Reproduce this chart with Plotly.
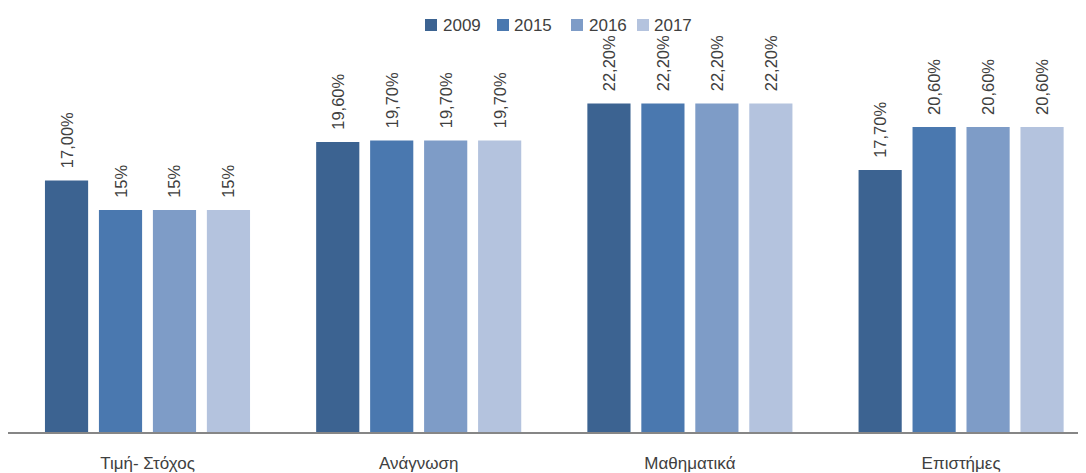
import plotly.graph_objects as go

categories = ["Τιμή- Στόχος", "Ανάγνωση", "Μαθηματικά", "Επιστήμες"]
years = ["2009", "2015", "2016", "2017"]
values_2009 = [17.0, 19.6, 22.2, 17.7]
values_2015 = [15.0, 19.7, 22.2, 20.6]
values_2016 = [15.0, 19.7, 22.2, 20.6]
values_2017 = [15.0, 19.7, 22.2, 20.6]
labels_2009 = ["17,00%", "19,60%", "22,20%", "17,70%"]
labels_2015 = ["15%", "19,70%", "22,20%", "20,60%"]
labels_2016 = ["15%", "19,70%", "22,20%", "20,60%"]
labels_2017 = ["15%", "19,70%", "22,20%", "20,60%"]
colors = ["#3C6391", "#4A78AF", "#7E9CC7", "#B4C3DE"]

series = [
    (years[0], values_2009, labels_2009, colors[0]),
    (years[1], values_2015, labels_2015, colors[1]),
    (years[2], values_2016, labels_2016, colors[2]),
    (years[3], values_2017, labels_2017, colors[3]),
]

# page body has an 8px margin: size the figure to fit the 1086x473 window
OFF = 8
W, H = 1086 - OFF, 473 - OFF
BASE = 432 - OFF          # baseline in figure pixels
ML, MR, MT = 0, 0, 12
MB = H - BASE
PW, PH = W - ML - MR, H - MT - MB
TEXT = "#404040"
PAD = "\u00a0\u00a0"

fig = go.Figure()
for name, vals, labs, col in series:
    fig.add_trace(go.Bar(
        x=list(range(len(categories))), y=vals, name=name,
        marker=dict(color=col, line=dict(width=0)),
        text=[PAD + t for t in labs], textposition="outside", textangle=-90,
        constraintext="none",
        textfont=dict(family="Liberation Sans", size=16.5, color=TEXT),
        cliponaxis=False, showlegend=False,
    ))

# custom legend (reference-window pixel positions converted to paper coords)
def px_x(p):
    return (p - OFF - ML) / PW

def px_y(p):
    return (H - MB - (p - OFF)) / PH

sq_left = [425, 497, 571, 637]
txt_left = [441, 512, 587, 652]
shapes = []
annotations = []
for i, yr in enumerate(years):
    shapes.append(dict(type="rect", xref="paper", yref="paper",
                       x0=px_x(sq_left[i]), x1=px_x(sq_left[i] + 12),
                       y0=px_y(31), y1=px_y(19),
                       fillcolor=colors[i], line=dict(width=0), layer="above"))
    annotations.append(dict(text=yr, xref="paper", yref="paper",
                            x=px_x(txt_left[i]), y=px_y(25), xanchor="left", yanchor="middle",
                            showarrow=False, font=dict(family="Liberation Sans", size=17, color=TEXT)))

x_per = 271.2
x0_center = 147.5 - OFF
rng = [(ML - x0_center) / x_per, (ML + PW - x0_center) / x_per]

fig.update_layout(
    width=W, height=H,
    margin=dict(l=ML, r=MR, t=MT, b=MB, autoexpand=False),
    paper_bgcolor="white", plot_bgcolor="white",
    barmode="group", bargap=0.204, bargroupgap=0.2,
    font=dict(family="Liberation Sans", size=17, color=TEXT),
    showlegend=False,
    shapes=shapes, annotations=annotations,
    xaxis=dict(
        tickmode="array", tickvals=list(range(len(categories))), ticktext=categories,
        range=rng, showgrid=False, showline=True, linecolor="#868686",
        linewidth=1.5, ticks="", ticklabelstandoff=15, zeroline=False,
        tickfont=dict(family="Liberation Sans", size=17, color=TEXT),
    ),
    yaxis=dict(range=[0, PH / 14.8], visible=False, showgrid=False, zeroline=False),
)

fig.write_html("out.html")
